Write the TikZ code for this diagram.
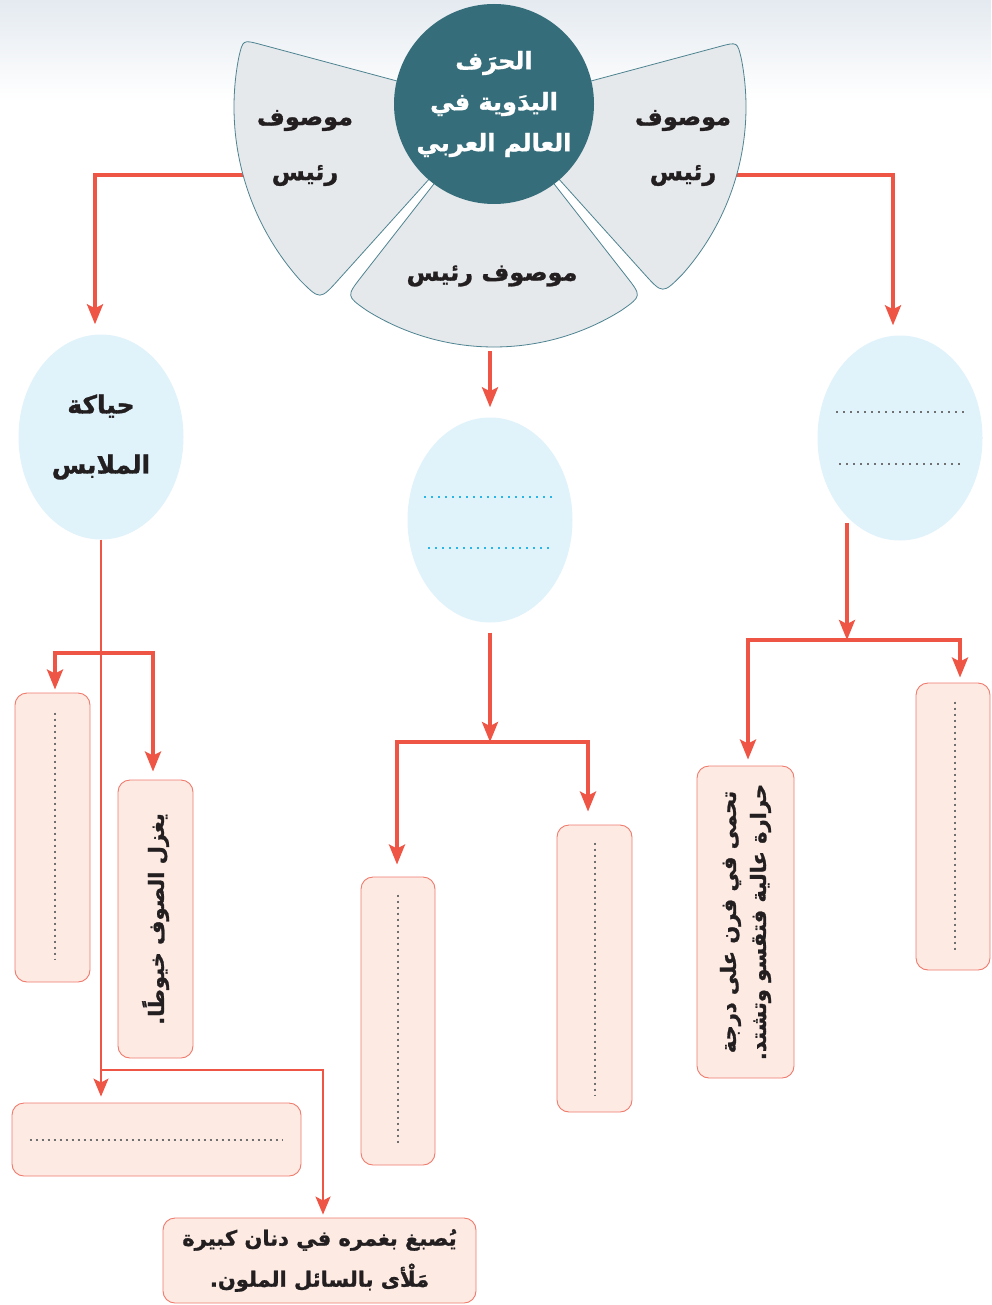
\documentclass[tikz,border=0pt]{standalone}
\usepackage{fontspec}
\usetikzlibrary{shapes.geometric,arrows.meta,calc}
\newfontfamily\ar[Script=Arabic,BoldFeatures={FakeBold=1.2}]{DejaVu Sans}
\TeXXeTstate=1
\newcommand{\ART}[1]{\beginR #1\endR}
\definecolor{redline}{HTML}{EF5545}
\definecolor{boxfill}{HTML}{FCEAE3}
\definecolor{boxline}{HTML}{F07A6C}
\definecolor{ellfill}{HTML}{E0F2FA}
\definecolor{hubcol}{HTML}{356D7B}
\definecolor{petfill}{HTML}{E6E9EC}
\definecolor{petline}{HTML}{4E8391}
\definecolor{dotgrey}{HTML}{707070}
\definecolor{dotcyan}{HTML}{29B5E8}
\definecolor{bgtop}{HTML}{E4EAF0}
\definecolor{txt}{HTML}{231F20}
\tikzset{
  arr/.style={draw=redline, line width=3.3pt, -{Stealth[length=20pt,width=16pt,inset=4pt]}},
  thinarr/.style={draw=redline, line width=2pt, -{Stealth[length=18pt,width=15pt,inset=4pt]}},
  petal/.style={fill=petfill, draw=petline, line width=0.8pt},
  ptxt/.style={font=\ar\bfseries\fontsize{24}{55}\selectfont, text=txt, align=center},
  hub/.style={circle, fill=hubcol, minimum size=200pt, inner sep=0pt, text=white, align=center, font=\ar\bfseries\fontsize{24}{41}\selectfont},
  ell/.style={ellipse, fill=ellfill, inner sep=0pt, minimum width=165pt, minimum height=205pt, font=\ar\bfseries\fontsize{25}{60}\selectfont, text=txt, align=center},
  box/.style={rectangle, rounded corners=12pt, fill=boxfill, draw=boxline, line width=0.9pt, inner sep=0pt},
  btxt/.style={font=\ar\bfseries\fontsize{21}{30}\selectfont, text=txt, align=center},
  gdots/.style={draw=dotgrey, line width=2pt, dash pattern=on 2pt off 4pt},
  edots/.style={draw=dotgrey, line width=2pt, dash pattern=on 2pt off 5pt},
  cdots/.style={draw=dotcyan, line width=2pt, dash pattern=on 2pt off 5pt},
}
\begin{document}
\begin{tikzpicture}[x=1pt,y=-1pt]
\useasboundingbox (0,0) rectangle (991,1305);
\fill[white] (0,0) rectangle (991,1305);
\shade[top color=bgtop, bottom color=white] (0,0) rectangle (991,100);

% named points
\coordinate (P) at (494,107);
\coordinate (pL) at (252,175);
\coordinate (pR) at (730,175);
\coordinate (pM) at (490,351);
\coordinate (jL) at (102,653);
\coordinate (jL2) at (102,1070);
\coordinate (jM) at (490,742);
\coordinate (sR) at (847,523);
\coordinate (jR) at (847,640);

% ellipses
\node[ell] (eL) at (101,437) {\ART{حياكة}\\\ART{الملابس}};
\node[ell] (eM) at (490,520) {};
\node[ell] (eR) at (900,438) {};

% boxes
\node[box, minimum width=75pt, minimum height=289pt] (L1) at (52.5,837.5) {};
\node[box, minimum width=75pt, minimum height=278pt] (L2) at (155.5,919) {};
\node[box, minimum width=289pt, minimum height=73pt] (L3) at (156.5,1139.5) {};
\node[box, minimum width=313pt, minimum height=85pt] (L4) at (319.5,1260.5) {};
\node[box, minimum width=74pt, minimum height=288pt] (M1) at (398,1021) {};
\node[box, minimum width=75pt, minimum height=287pt] (M2) at (594.5,968.5) {};
\node[box, minimum width=97pt, minimum height=312pt] (R1) at (745.5,922) {};
\node[box, minimum width=74pt, minimum height=287pt] (R2) at (953,826.5) {};

% connectors from petals (drawn first, petals cover their start)
\draw[arr, shorten >=10pt] (pL) -| ([xshift=-6pt]eL.north);
\draw[arr, shorten >=10pt] (pR) -| ([xshift=-7pt]eR.north);
\draw[arr, shorten >=10pt] (pM) -- (eM.north);

% petals
\filldraw[petal] ($(P)+(165:70pt)$) -- ($(P)+(165:242pt)$)
  .. controls ($(P)+(165:260pt)$) .. ($(P)+(169.0:260pt)$)
  arc[start angle=169.0, end angle=221.8, radius=260pt]
  .. controls ($(P)+(228:260pt)$) .. ($(P)+(228:232pt)$) -- ($(P)+(228:70pt)$) -- cycle;
\filldraw[petal] ($(P)+(232:70pt)$) -- ($(P)+(232:215pt)$)
  .. controls ($(P)+(232:240pt)$) .. ($(P)+(237.97:240pt)$)
  arc[start angle=237.97, end angle=302.03, radius=240pt]
  .. controls ($(P)+(308:240pt)$) .. ($(P)+(308:215pt)$) -- ($(P)+(308:70pt)$) -- cycle;
\filldraw[petal] ($(P)+(312:70pt)$) -- ($(P)+(312:224pt)$)
  .. controls ($(P)+(312:252pt)$) .. ($(P)+(318.37:252pt)$)
  arc[start angle=318.37, end angle=370.91, radius=252pt]
  .. controls ($(P)+(375:252pt)$) .. ($(P)+(375:234pt)$) -- ($(P)+(375:70pt)$) -- cycle;

% hub
\node[hub] (hub) at (494,104) {\ART{الحرَف}\\\ART{اليدَوية في}\\\ART{العالم العربي}};

% petal texts
\node[ptxt] (tL) at (305,148) {\ART{موصوف}\\\ART{رئيس}};
\node[ptxt] (tR) at (683,148) {\ART{موصوف}\\\ART{رئيس}};
\node[ptxt] (tM) at (492,276) {\ART{موصوف رئيس}};

% dotted lines in ellipses
\draw[cdots] (424,497) -- (555,497);
\draw[cdots] (428,548) -- (552,548);
\draw[edots] (836,412) -- (967,412);
\draw[edots] (839,464) -- (964,464);

% left branch
\draw[thinarr, shorten >=6pt] (eL.south) -- (eL.south |- L3.north);
\draw[arr, shorten >=3pt] (jL) -| ([xshift=2.5pt]L1.north);
\draw[arr, shorten >=8pt] (jL) -| ([xshift=-2.5pt]L2.north);
\draw[thinarr, shorten >=3pt] (jL2) -| ([xshift=3.5pt]L4.north);

% middle branch
\draw[arr, shorten <=10pt] (eM.south) -- (jM);
\draw[arr, shorten >=12pt] (jM) -| ([xshift=-1pt]M1.north);
\draw[arr, shorten >=13pt] (jM) -| ([xshift=-6.5pt]M2.north);

% right branch
\draw[arr] (sR) -- (jR);
\draw[arr, shorten >=6pt] (jR) -| ([xshift=2.5pt]R1.north);
\draw[arr, shorten >=5pt] (jR) -| ([xshift=7pt]R2.north);

% box contents
\draw[gdots] ([xshift=2.5pt,yshift=-20pt]L1.north) -- ([xshift=2.5pt,yshift=22pt]L1.south);
\node[btxt, rotate=90] (tL2) at (L2.center) {\ART{يغزل الصوف خيوطًا.}};
\draw[gdots] ([xshift=18pt]L3.west) -- ([xshift=-18pt]L3.east);
\node[btxt, font=\ar\bfseries\fontsize{21}{41}\selectfont] (tL4) at (L4.center) {\ART{يُصبغ بغمره في دنان كبيرة}\\\ART{مَلْأى بالسائل الملون.}};
\draw[gdots] ([yshift=-18pt]M1.north) -- ([yshift=20pt]M1.south);
\draw[gdots] ([yshift=-18pt]M2.north) -- ([yshift=17pt]M2.south);
\node[btxt, rotate=90] (tR1) at (R1.center) {\ART{تحمى في فرن على درجة}\\\ART{حرارة عالية فتقسو وتشتد.}};
\draw[gdots] ([xshift=2pt,yshift=-19pt]R2.north) -- ([xshift=2pt,yshift=18pt]R2.south);
\end{tikzpicture}
\end{document}
